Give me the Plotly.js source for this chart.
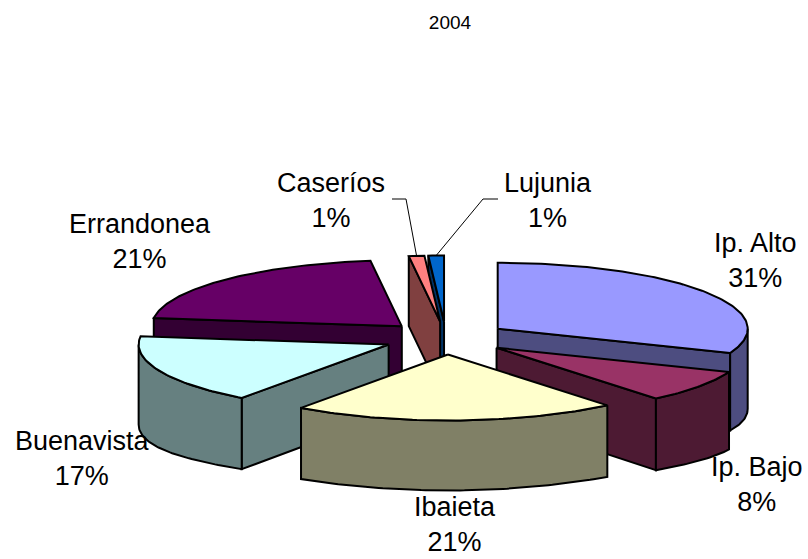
<!DOCTYPE html>
<html><head><meta charset="utf-8">
<script src="https://cdn.plot.ly/plotly-3.0.1.min.js"></script>
<style>html,body{margin:0;padding:0;background:#fff}</style>
</head><body>
<div id="chart" style="width:808px;height:559px"></div>
<script>
// ---- data ----
const categories = ["Ip. Alto", "Ip. Bajo", "Ibaieta", "Buenavista", "Errandonea", "Caseríos", "Lujunia"];
const values = [31, 8, 21, 17, 21, 1, 1];
const topColors = ["#9999FF", "#993366", "#FFFFCC", "#CCFFFF", "#660066", "#FF8080", "#0066CC"];
const sideColors = ["#4D4D80", "#4D1A33", "#808066", "#668080", "#330033", "#804040", "#003366"];
const chartTitle = "2004";

// ---- layout geometry (pixel space of the plot) ----
const CX = 446, CY = 338, RX = 250, RY = 66, DEPTH = 70, DEPTH_SIDE = 10, EXPLODE = 0.25;
const labelPos = [[755, 260.5], [757, 484.5], [455, 524], [82, 458.5], [140, 241.5], [331, 200.5], [548, 200.5]];
const leaderElbows = {5: [[392, 199], [406, 199]], 6: [[498, 199], [483, 199]]};
const FONT = "Liberation Sans, Arial, sans-serif";

const total = values.reduce((a, b) => a + b, 0);
const deg = Math.PI / 180;
let cum = 0;
const slices = values.map((v, i) => {
  const s = cum / total * 360; cum += v; const e = cum / total * 360;
  const m = (s + e) / 2;
  return {i, s, e, m,
    ox: CX + EXPLODE * RX * Math.sin(m * deg),
    oy: CY - EXPLODE * RY * Math.cos(m * deg)};
});
function depthAt(th, r) { return DEPTH + DEPTH_SIDE * r * Math.pow(Math.sin(th * deg), 4); }
function pt(sl, th, r, bottom) {
  return [sl.ox + r * RX * Math.sin(th * deg),
          sl.oy - r * RY * Math.cos(th * deg) + (bottom ? depthAt(th, r) : 0)];
}
function arc(sl, a1, a2, bottom) {
  const n = Math.max(2, Math.ceil(Math.abs(a2 - a1)));
  const out = [];
  for (let k = 0; k <= n; k++) out.push(pt(sl, a1 + (a2 - a1) * k / n, 1, bottom));
  return out;
}
function radial(sl, th) {
  const out = [];
  for (let k = 0; k <= 20; k++) out.push(pt(sl, th, k / 20, true));
  return out;
}
function poly(points, color) {
  const p = points.concat([points[0]]);
  return {type: "scatter", mode: "lines", x: p.map(q => q[0]), y: p.map(q => q[1]),
    fill: "toself", fillcolor: color, line: {color: "#000", width: 2, shape: "linear"},
    hoverinfo: "skip", showlegend: false};
}

const traces = [];
const order = slices.slice().sort((a, b) => Math.cos(b.m * deg) - Math.cos(a.m * deg));
order.forEach(sl => {
  const apex = pt(sl, 0, 0, false);
  const side = sideColors[sl.i];
  if (Math.sin(sl.s * deg) < -1e-9)
    traces.push(poly([apex, pt(sl, sl.s, 1, false)].concat(radial(sl, sl.s).reverse()), side));
  if (Math.sin(sl.e * deg) > 1e-9)
    traces.push(poly([apex, pt(sl, sl.e, 1, false)].concat(radial(sl, sl.e).reverse()), side));
  const t1 = Math.max(sl.s, 90), t2 = Math.min(sl.e, 270);
  if (t2 > t1) traces.push(poly(arc(sl, t1, t2, false).concat(arc(sl, t2, t1, true)), side));
  traces.push(poly([apex].concat(arc(sl, sl.s, sl.e, false)), topColors[sl.i]));
});

// leader lines
Object.keys(leaderElbows).forEach(k => {
  const sl = slices[+k];
  const p = leaderElbows[k].concat([pt(sl, sl.m, 1, false)]);
  traces.push({type: "scatter", mode: "lines", x: p.map(q => q[0]), y: p.map(q => q[1]),
    line: {color: "#000", width: 1}, hoverinfo: "skip", showlegend: false});
});

const annotations = categories.map((c, i) => ({
  x: labelPos[i][0], y: labelPos[i][1], xref: "x", yref: "y",
  text: c + "<br>" + Math.round(values[i] / total * 100) + "%",
  showarrow: false, xanchor: "center", yanchor: "middle", align: "center",
  font: {family: FONT, size: 27, color: "#000"}
}));

const layout = {
  width: 808, height: 559, autosize: false,
  margin: {l: 0, r: 0, t: 0, b: 0},
  paper_bgcolor: "#fff", plot_bgcolor: "#fff",
  title: {text: chartTitle, font: {family: FONT, size: 19, color: "#000"},
    x: 450 / 808, xref: "container", xanchor: "center", y: 1 - 22 / 559, yref: "container", yanchor: "middle"},
  xaxis: {range: [0, 808], visible: false, fixedrange: true},
  yaxis: {range: [559, 0], visible: false, fixedrange: true},
  annotations: annotations,
  showlegend: false
};
Plotly.newPlot("chart", traces, layout, {staticPlot: true, displayModeBar: false});
</script>
</body></html>
